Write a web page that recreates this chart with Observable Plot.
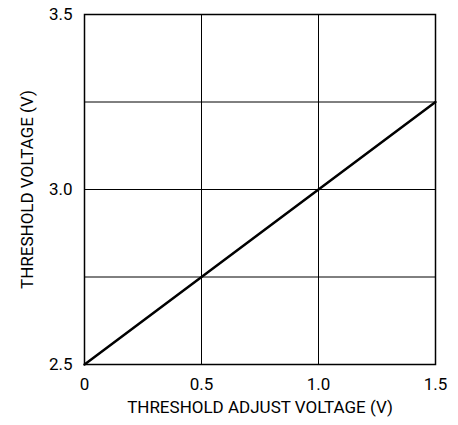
<!DOCTYPE html>
<html>
<head>
<meta charset="utf-8">
<script src="https://cdn.jsdelivr.net/npm/d3@7"></script>
<script src="https://cdn.jsdelivr.net/npm/@observablehq/plot@0.6"></script>
<style>
  html, body { margin: 0; padding: 0; background: #fff; }
  svg { display: block; }
  svg text { font-family: 'Liberation Sans Narrow', 'Arial Narrow', Roboto, sans-serif; font-size: 17px; }
</style>
</head>
<body>
<div id="chart"></div>
<script>
const adjustVoltage = [0, 1.5];
const thresholdVoltage = [2.5, 3.25];
const xTicks = [0, 0.5, 1.0, 1.5];
const xTickLabels = ["0", "0.5", "1.0", "1.5"];
const yTicks = [2.5, 3.0, 3.5];
const yTickLabels = ["2.5", "3.0", "3.5"];
const xGrid = [0.5, 1.0];
const yGrid = [2.75, 3.0, 3.25];

const data = adjustVoltage.map((x, i) => ({x, y: thresholdVoltage[i]}));

const chart = Plot.plot({
  width: 458,
  height: 425,
  marginLeft: 84,
  marginRight: 23,
  marginTop: 14,
  marginBottom: 61,
  style: {color: "#000", background: "#fff"},
  x: {domain: [0, 1.5]},
  y: {domain: [2.5, 3.5]},
  marks: [
    Plot.ruleX(xGrid, {stroke: "#000", strokeWidth: 1}),
    Plot.ruleY(yGrid, {stroke: "#000", strokeWidth: 1}),
    Plot.frame({stroke: "#000", strokeWidth: 1.5}),
    Plot.line(data, {x: "x", y: "y", stroke: "#000", strokeWidth: 2.5}),
    Plot.axisX(xTicks, {
      tickSize: 0, tickPadding: 13,
      tickFormat: (d, i) => xTickLabels[i],
      label: "THRESHOLD ADJUST VOLTAGE (V)",
      labelAnchor: "center", labelArrow: "none", labelOffset: 48
    }),
    Plot.axisY(yTicks, {
      tickSize: 0, tickPadding: 12,
      tickFormat: (d, i) => yTickLabels[i],
      label: "THRESHOLD VOLTAGE (V)",
      labelAnchor: "center", labelArrow: "none", labelOffset: 64
    })
  ]
});
document.getElementById("chart").appendChild(chart);
</script>
</body>
</html>
